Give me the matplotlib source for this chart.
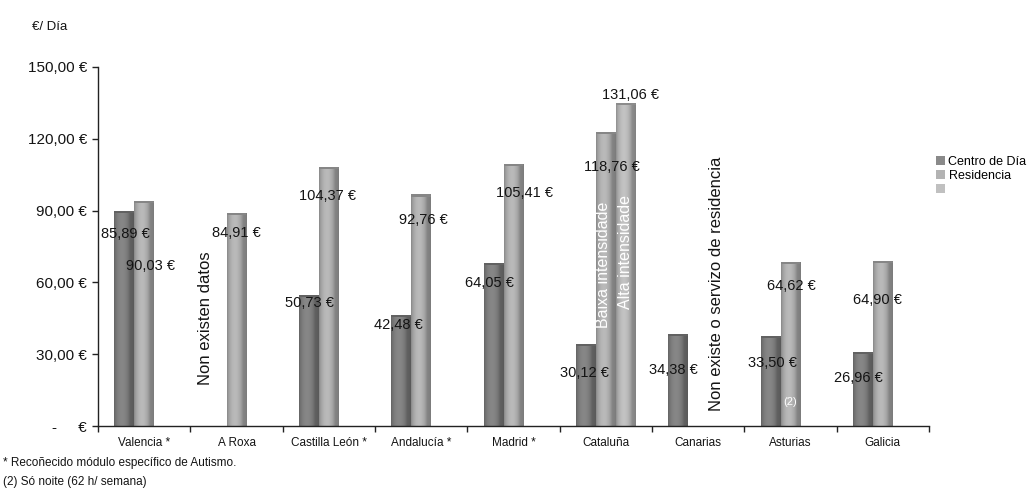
import numpy as np
import matplotlib
matplotlib.use("Agg")
import matplotlib.pyplot as plt
from matplotlib.patches import Patch

plt.rcParams['font.family'] = ['Liberation Sans', 'DejaVu Sans']

# ---------------- data ----------------
categories = ["Valencia *", "A Roxa", "Castilla León *", "Andalucía *", "Madrid *",
              "Cataluña", "Canarias", "Asturias", "Galicia"]
centro_dia = [85.89, np.nan, 50.73, 42.48, 64.05, 30.12, 34.38, 33.50, 26.96]
residencia = [90.03, 84.91, 104.37, 92.76, 105.41, 118.76, np.nan, 64.62, 64.90]
alta_intensidade = [np.nan, np.nan, np.nan, np.nan, np.nan, 131.06, np.nan, np.nan, np.nan]
series_names = ["Centro de Día", "Residencia", ""]
y_ticks = [0, 30, 60, 90, 120, 150]
y_tick_labels = ["-     €", "30,00 €", "60,00 €", "90,00 €", "120,00 €", "150,00 €"]
y_unit = "€/ Día"
notes = ["* Recoñecido módulo específico de Autismo.", "(2) Só noite (62 h/ semana)"]

# label offsets in pixels (dx, dy) relative to top-centre of each bar
off_centro = [(1, -14), None, (1, 2), (-3, -1), (-4, -10), (-1, -19), (-5, -26), (2, -17), (-5, -17)]
off_resid = [(6, -55), (0, -10), (-1, -20), (2, -16), (11, -19), (6, -25), None, (1, -15), (-5, -29)]
off_alta = [None, None, None, None, None, (5, 17), None, None, None]

TXT = '#141414'

# ---------------- figure ----------------
fig = plt.figure(figsize=(10.32, 4.95), dpi=100)
ax = fig.add_axes([98 / 1032, 1 - 426 / 495, (929 - 98) / 1032, (426 - 67) / 495])

x = np.arange(len(categories))
W = 0.216
CAP = 4.0
base_cols = ["#7d7d7d", "#acacac", "#b4b4b4"]
series = [centro_dia, residencia, alta_intensidade]
offsets = [off_centro, off_resid, off_alta]


def shade(patches, base):
    rgb = np.array(matplotlib.colors.to_rgb(base))
    t = np.linspace(0, 1, 64)
    fac = 0.78 + 0.30 * np.sin(np.pi * np.clip(t * 1.25, 0, 1)) ** 0.7
    fac = np.where(t > 0.8, fac - 0.06 * (t - 0.8) / 0.2, fac)
    img = np.clip(rgb[None, None, :] * fac[None, :, None], 0, 1)
    for p in patches:
        h = p.get_height()
        if not np.isfinite(h) or h <= 0:
            continue
        x0, y0, w = p.get_x(), p.get_y(), p.get_width()
        im = ax.imshow(img, extent=[x0, x0 + w, y0, y0 + h], aspect='auto',
                       interpolation='bilinear', zorder=p.get_zorder() + 0.1)
        im.set_clip_path(p)


for j, (vals, col) in enumerate(zip(series, base_cols)):
    vals = np.array(vals, dtype=float)
    xs = x + (j - 1) * W
    body = ax.bar(xs, vals, W, color=col, linewidth=0, zorder=2)
    shade(body.patches, col)
    capv = np.where(np.isfinite(vals), CAP, np.nan)
    cap = ax.bar(xs, capv, W, bottom=vals, color=col, linewidth=0, zorder=2)
    shade(cap.patches, col)
    rim = np.where(np.isfinite(vals), 0.9, np.nan)
    dark = np.array(matplotlib.colors.to_rgb(col)) * 0.78
    ax.bar(xs, rim, W, bottom=vals + CAP - 0.9, color=dark, linewidth=0, zorder=3)
    for i, v in enumerate(vals):
        if not np.isfinite(v) or offsets[j][i] is None:
            continue
        dx, dy = offsets[j][i]
        ax.annotate(f"{v:.2f}".replace('.', ',') + " €", xy=(xs[i], v),
                    xytext=(dx, dy), textcoords='offset pixels',
                    ha='center', va='center', fontsize=10.5, color=TXT, zorder=5)

# in-chart notes
ax.text(0.66, 45, "Non existen datos", rotation=90, ha='center', va='center',
        fontsize=12, color=TXT, zorder=5)
ax.text(6.199, 59.3, "Non existe o servizo de residencia", rotation=90, ha='center',
        va='center', fontsize=12, color=TXT, zorder=5)
ax.text(5 - 0.03, 67.5, "Baixa intensidade", rotation=90, ha='center', va='center',
        fontsize=11.5, color='white', zorder=5)
ax.text(5 + W, 72.5, "Alta intensidade", rotation=90, ha='center', va='center',
        fontsize=11.5, color='white', zorder=5)
ax.text(7, 10, "(2)", ha='center', va='center', fontsize=8, color='white', zorder=5)

# axes styling
ax.set_xlim(-0.5, len(categories) - 0.5)
ax.set_ylim(0, 150)
for s in ['top', 'right']:
    ax.spines[s].set_visible(False)
for s in ['left', 'bottom']:
    ax.spines[s].set_linewidth(1.0)
    ax.spines[s].set_color('#222222')
ax.set_yticks(y_ticks)
ax.set_yticklabels(y_tick_labels, fontsize=11, color=TXT)
ax.tick_params(axis='y', length=4, width=1, pad=4, color='#222222')
ax.set_xticks(np.arange(len(categories) + 1) - 0.5)
ax.set_xticklabels([])
ax.tick_params(axis='x', which='major', length=4, width=1, color='#222222')
ax.set_xticks(x, minor=True)
ax.set_xticklabels(categories, minor=True, fontsize=8.5, color=TXT)
ax.tick_params(axis='x', which='minor', length=0, pad=8)

fig.text(32 / 1032, 1 - 27 / 495, y_unit, fontsize=9.5, va='center', ha='left', color=TXT)
fig.text(3 / 1032, 1 - 463 / 495, notes[0], fontsize=8.5, va='center', ha='left', color=TXT)
fig.text(3 / 1032, 1 - 482 / 495, notes[1], fontsize=8.5, va='center', ha='left', color=TXT)

handles = [Patch(facecolor=c, edgecolor='none') for c in ["#8a8a8a", "#b3b3b3", "#c0c0c0"]]
fig.legend(handles, series_names, loc='upper left', bbox_to_anchor=(936 / 1032, 1 - 156 / 495),
           frameon=False, fontsize=9, handlelength=0.7, handleheight=0.7,
           handletextpad=0.3, labelspacing=0.15, borderaxespad=0, borderpad=0)

fig.savefig("out.png", dpi=100)
